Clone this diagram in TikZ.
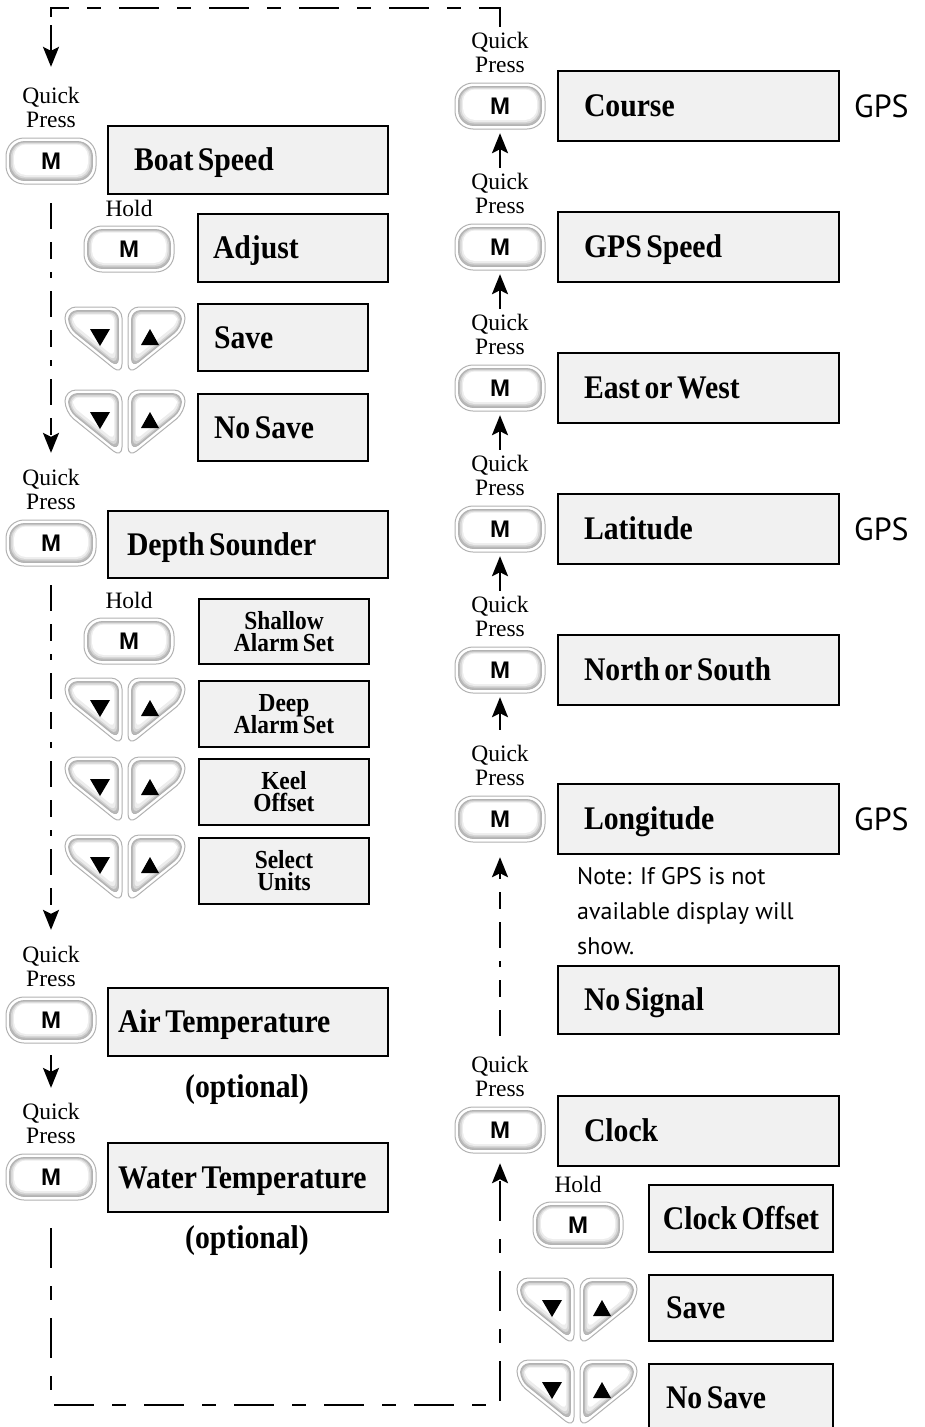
\documentclass[tikz,border=0pt]{standalone}
\usepackage{fontspec}
\setmainfont{Liberation Serif}
\newfontfamily\bxfont{Liberation Serif}[FakeStretch=0.9]
\newfontfamily\hvfont{Liberation Sans}
\newfontfamily\gpsfont{PT Sans}
\usetikzlibrary{arrows.meta}
\definecolor{boxfill}{HTML}{F1F1F1}
\newcommand\bxbig{\fontsize{33}{35}\selectfont\bxfont\bfseries\spaceskip=4.5pt\relax}
\newcommand\bxsmall{\fontsize{26}{22}\selectfont\bxfont\bfseries\spaceskip=4pt\relax\lineskiplimit=-30pt\relax}
\newcommand\halfbtn{%
  \path[fill=white, draw=gray!60, line width=1pt, rounded corners=11pt] (0,0) -- (57,0) -- (57,68) -- (0,22) -- cycle;
  \path[fill=gray!55, draw=gray!60, line width=0.8pt, rounded corners=9pt] (3.5,3.5) -- (53.5,3.5) -- (53.5,60.7) -- (3.5,20.3) -- cycle;
  \path[fill=gray!32, rounded corners=8pt] (5,5) -- (52,5) -- (52,57.5) -- (5,19.6) -- cycle;
  \path[fill=gray!14, rounded corners=7pt] (6.5,6.5) -- (50.5,6.5) -- (50.5,54.4) -- (6.5,18.9) -- cycle;
  \path[fill=white, rounded corners=6pt] (8,7.5) -- (49,7.5) -- (49,49.5) -- (8,16.5) -- cycle;
}
\tikzset{
  bx/.style={draw=black, line width=2pt, fill=boxfill, anchor=north west, inner ysep=0pt,
    align=flush left, text height=21.5pt, text depth=0pt, font=\bxbig},
  bxc/.style={bx, align=flush center},
  bx2/.style={draw=black, line width=2pt, fill=boxfill, anchor=north west, inner sep=0pt,
    align=center, font=\bxsmall, minimum width=170pt},
  lbl/.style={inner sep=0pt, align=center, font=\fontsize{23.5}{24}\selectfont},
  opt/.style={inner sep=0pt, font=\fontsize{33}{35}\selectfont\bxfont\bfseries},
  gps/.style={inner sep=0pt, anchor=west, text height=23pt, text depth=0pt, font=\fontsize{32}{34}\selectfont\gpsfont},
  note/.style={inner sep=0pt, align=left, anchor=north west, font=\fontsize{24}{35}\selectfont\gpsfont},
  mtxt/.style={inner sep=0pt, minimum width=90pt, minimum height=46pt, text height=17pt, text depth=0pt,
    font=\fontsize{24}{24}\selectfont\hvfont\bfseries},
  arr/.style={line width=2.4pt, -{Stealth[length=20pt, width=16pt, inset=4pt]}},
  dsh/.style={line width=2.4pt, dash pattern=on 40pt off 18pt on 14pt off 18pt},
  dsh2/.style={line width=2.4pt, dash pattern=on 26pt off 13pt on 17pt off 13pt on 6pt off 13pt},
  pics/mbtn/.style={code={
    \path[fill=white, draw=gray!60, line width=1pt, rounded corners=18pt] (-45,-23) rectangle (45,23);
    \path[fill=gray!55, draw=gray!60, line width=0.8pt, rounded corners=15pt] (-41.5,-19.5) rectangle (41.5,19.5);
    \path[fill=gray!32, rounded corners=14pt] (-40,-18.5) rectangle (40,17.5);
    \path[fill=gray!14, rounded corners=13pt] (-38.5,-17.5) rectangle (38.5,16);
    \path[fill=white, rounded corners=12pt] (-37,-16.5) rectangle (37,14);
    \node[mtxt] (-n) at (0,0) {M};
  }},
  pics/arrowpair/.style={code={
    \halfbtn
    \begin{scope}[shift={(120,0)}, xscale=-1]
      \halfbtn
    \end{scope}
    \fill (25,22) -- (45,22) -- (35,39) -- cycle;
    \fill (76,38) -- (94,38) -- (85,22) -- cycle;
    \coordinate (-c) at (60,34);
  }}
}
\begin{document}
\begin{tikzpicture}[x=1pt, y=-1pt]
\useasboundingbox (0,0) rectangle (924,1427);

% ---------- left column ----------
\pic (mA) at (51,161) {mbtn};
\node[lbl, anchor=south] (qA) at ([yshift=10pt]mA-n.north) {Quick\\Press};
\node[bx, minimum width=280pt, minimum height=68pt, inner xsep=26pt, text width=228pt] (bs) at (107,125) {Boat Speed};

\pic (mB) at (129,249) {mbtn};
\node[lbl, anchor=south] (hB) at ([yshift=9pt]mB-n.north) {Hold};
\node[bx, minimum width=190pt, minimum height=68pt, inner xsep=15pt, text width=160pt] (adj) at (197,213) {Adjust};

\pic (pA1) at (65,307) {arrowpair};
\node[bx, minimum width=170pt, minimum height=67pt, inner xsep=16pt, text width=138pt] (sv1) at (197,303) {Save};
\pic (pA2) at (65,390) {arrowpair};
\node[bx, minimum width=170pt, minimum height=67pt, inner xsep=16pt, text width=138pt] (nsv1) at (197,393) {No Save};

\pic (mC) at (51,543) {mbtn};
\node[lbl, anchor=south] (qC) at ([yshift=10pt]mC-n.north) {Quick\\Press};
\node[bx, minimum width=280pt, minimum height=67pt, inner xsep=19pt, text width=242pt] (ds) at (107,510) {Depth Sounder};

\pic (mD) at (129,641) {mbtn};
\node[lbl, anchor=south] (hD) at ([yshift=9pt]mD-n.north) {Hold};
\node[bx2, minimum height=65pt] (sh) at (198,598) {Shallow\\Alarm Set};
\pic (pD1) at (65,678) {arrowpair};
\node[bx2, minimum height=66pt] (dp) at (198,680) {Deep\\Alarm Set};
\pic (pD2) at (65,757) {arrowpair};
\node[bx2, minimum height=66pt] (ko) at (198,758) {Keel\\Offset};
\pic (pD3) at (65,835) {arrowpair};
\node[bx2, minimum height=66pt] (su) at (198,837) {Select\\Units};

\pic (mE) at (51,1020) {mbtn};
\node[lbl, anchor=south] (qE) at ([yshift=10pt]mE-n.north) {Quick\\Press};
\node[bx, minimum width=280pt, minimum height=68pt, inner xsep=10pt, text width=260pt] (air) at (107,987) {\mbox{Air Temperature}};
\node[opt] (opt1) at (247,1090) {(optional)};

\pic (mF) at (51,1177) {mbtn};
\node[lbl, anchor=south] (qF) at ([yshift=10pt]mF-n.north) {Quick\\Press};
\node[bx, minimum width=280pt, minimum height=69pt, inner xsep=10pt, text width=260pt] (wat) at (107,1142) {\mbox{Water Temperature}};
\node[opt] (opt2) at (247,1241) {(optional)};

% ---------- right column ----------
\pic (mR1) at (500,106) {mbtn};
\node[lbl, anchor=south] (qR1) at ([yshift=10pt]mR1-n.north) {Quick\\Press};
\node[bx, minimum width=281pt, minimum height=70pt, inner xsep=26pt, text width=229pt] (crs) at (557,70) {Course};
\node[gps] (g1) at ([xshift=14pt]crs.east) {GPS};

\pic (mR2) at (500,247) {mbtn};
\node[lbl, anchor=south] (qR2) at ([yshift=10pt]mR2-n.north) {Quick\\Press};
\node[bx, minimum width=281pt, minimum height=70pt, inner xsep=26pt, text width=229pt] (gsp) at (557,211) {GPS Speed};

\pic (mR3) at (500,388) {mbtn};
\node[lbl, anchor=south] (qR3) at ([yshift=10pt]mR3-n.north) {Quick\\Press};
\node[bx, minimum width=281pt, minimum height=70pt, inner xsep=26pt, text width=229pt] (ew) at (557,352) {East or West};

\pic (mR4) at (500,529) {mbtn};
\node[lbl, anchor=south] (qR4) at ([yshift=10pt]mR4-n.north) {Quick\\Press};
\node[bx, minimum width=281pt, minimum height=70pt, inner xsep=26pt, text width=229pt] (lat) at (557,493) {Latitude};
\node[gps] (g2) at ([xshift=14pt]lat.east) {GPS};

\pic (mR5) at (500,670) {mbtn};
\node[lbl, anchor=south] (qR5) at ([yshift=10pt]mR5-n.north) {Quick\\Press};
\node[bx, minimum width=281pt, minimum height=70pt, inner xsep=26pt, text width=229pt] (nos) at (557,634) {North or South};

\pic (mR6) at (500,819) {mbtn};
\node[lbl, anchor=south] (qR6) at ([yshift=10pt]mR6-n.north) {Quick\\Press};
\node[bx, minimum width=281pt, minimum height=70pt, inner xsep=26pt, text width=229pt] (lon) at (557,783) {Longitude};
\node[gps] (g3) at ([xshift=14pt]lon.east) {GPS};

\node[note] (note) at (577,867) {Note: If GPS is not\\available display will\\show.};
\node[bx, minimum width=281pt, minimum height=68pt, inner xsep=26pt, text width=229pt] (nsig) at (557,965) {No Signal};

\pic (mR7) at (500,1130) {mbtn};
\node[lbl, anchor=south] (qR7) at ([yshift=10pt]mR7-n.north) {Quick\\Press};
\node[bx, minimum width=281pt, minimum height=70pt, inner xsep=26pt, text width=229pt] (clk) at (557,1095) {Clock};

\pic (mH) at (578,1225) {mbtn};
\node[lbl, anchor=south] (hH) at ([yshift=9pt]mH-n.north) {Hold};
\node[bxc, minimum width=184pt, minimum height=67pt, inner xsep=6pt, text width=172pt] (cof) at (648,1184) {Clock Offset};
\pic (pH1) at (517,1278) {arrowpair};
\node[bx, minimum width=184pt, minimum height=66pt, inner xsep=17pt, text width=150pt] (sv2) at (648,1274) {Save};
\pic (pH2) at (517,1360) {arrowpair};
\node[bx, minimum width=184pt, minimum height=68pt, inner xsep=17pt, text width=150pt] (nsv2) at (648,1363) {No Save};

% ---------- connectors ----------
\coordinate (T1) at (500,8);
\coordinate (T2) at (51,8);
\coordinate (T3) at (51,17);
\coordinate (T4) at (51,25);
\coordinate (L2) at (51,1405);
\draw[dsh] ([yshift=5pt]qR1.north) -- (T1) -- (T2) -- (T3);
\draw[arr] (T4) -- ([yshift=20pt]qA.north);

\draw[dsh2, arr] ([yshift=-19pt]mA-n.south) -- ([yshift=16pt]qC.north);
\draw[dsh2, arr] ([yshift=-19pt]mC-n.south) -- ([yshift=16pt]qE.north);
\draw[arr] ([yshift=-12pt]mE-n.south) -- ([yshift=15pt]qF.north);
\draw[dsh, arr, shorten >=10pt] ([yshift=-28pt]mF-n.south) -- (L2) -- (L2 -| mR7-n.south) -- (mR7-n.south);

\draw[arr, shorten <=5pt, shorten >=4pt] (qR2.north) -- (mR1-n.south);
\draw[arr, shorten <=5pt, shorten >=4pt] (qR3.north) -- (mR2-n.south);
\draw[arr, shorten <=5pt, shorten >=4pt] (qR4.north) -- (mR3-n.south);
\draw[arr, shorten <=5pt, shorten >=4pt] (qR5.north) -- (mR4-n.south);
\draw[arr, shorten <=15pt, shorten >=4pt] (qR6.north) -- (mR5-n.south);
\draw[dsh2, arr, shorten <=20pt, shorten >=15pt] (qR7.north) -- (mR6-n.south);
\end{tikzpicture}
\end{document}
